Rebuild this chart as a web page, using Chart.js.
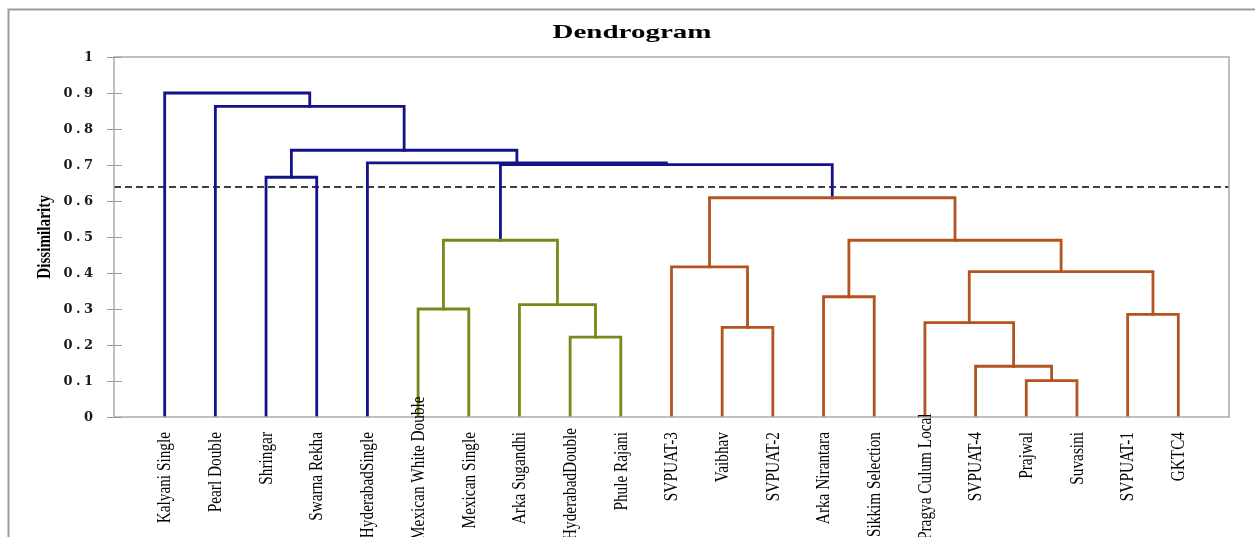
<!DOCTYPE html>
<html>
<head>
<meta charset="utf-8">
<script src="https://cdn.jsdelivr.net/npm/chart.js@4.4.1/dist/chart.umd.min.js"></script>
<style>
  html, body { margin: 0; padding: 0; background: #ffffff; }
  #wrap { position: relative; width: 1255px; height: 537px; overflow: hidden; }
  canvas { display: block; }
</style>
</head>
<body>
<div id="wrap"><canvas id="c" width="1255" height="537"></canvas></div>
<script>
// ---- data ----
const leaves = ["Kalyani Single", "Pearl Double", "Shringar", "Swarna Rekha", "HyderabadSingle",
  "Mexican White Double", "Mexican Single", "Arka Sugandhi", "HyderabadDouble", "Phule Rajani",
  "SVPUAT-3", "Vaibhav", "SVPUAT-2", "Arka Nirantara", "Sikkim Selection", "Pragya Culum Local",
  "SVPUAT-4", "Prajwal", "Suvasini", "SVPUAT-1", "GKTC4"];
// merges: node ids 0..20 are leaves, 21.. are merges in order
const mergeLeft   = [17, 16, 8, 11, 15, 19, 5, 7, 13, 25, 10, 27, 29, 31, 2, 32, 4, 35, 1, 0];
const mergeRight  = [18, 21, 9, 12, 22, 20, 6, 23, 14, 26, 24, 28, 30, 33, 3, 34, 36, 37, 38, 39];
const mergeHeight = [0.101, 0.141, 0.222, 0.249, 0.262, 0.285, 0.300, 0.312, 0.334, 0.404, 0.417,
  0.491, 0.491, 0.609, 0.666, 0.701, 0.706, 0.741, 0.863, 0.900];
const mergeGroup  = ["o", "o", "g", "o", "o", "o", "g", "g", "o", "o", "o", "g", "o", "o",
  "b", "b", "b", "b", "b", "b"];
const groupColors = { b: "#12128a", g: "#768a1a", o: "#b4531e" };
const yTicks = [0, 0.1, 0.2, 0.3, 0.4, 0.5, 0.6, 0.7, 0.8, 0.9, 1];
const yTickLabels = ["0", "0.1", "0.2", "0.3", "0.4", "0.5", "0.6", "0.7", "0.8", "0.9", "1"];
const cutHeight = 0.639;
const chartTitle = "Dendrogram";
const yTitle = "Dissimilarity";

// ---- build link datasets from the merge table ----
const nodeX = leaves.map((_, i) => i + 1);
const nodeH = leaves.map(() => 0);
const datasets = [];
for (let k = 0; k < mergeLeft.length; k++) {
  const a = mergeLeft[k], b = mergeRight[k], h = mergeHeight[k];
  datasets.push({
    data: [{x: nodeX[a], y: nodeH[a]}, {x: nodeX[a], y: h}, {x: nodeX[b], y: h}, {x: nodeX[b], y: nodeH[b]}],
    borderColor: groupColors[mergeGroup[k]],
    borderWidth: 2.8,
    showLine: true, pointRadius: 0, tension: 0, fill: false,
    borderCapStyle: "square", borderJoinStyle: "miter"
  });
  nodeX.push((nodeX[a] + nodeX[b]) / 2);
  nodeH.push(h);
}
datasets.push({
  data: [{x: 0, y: cutHeight}, {x: leaves.length + 1, y: cutHeight}],
  borderColor: "#000000", borderWidth: 1.4, borderDash: [7, 4],
  showLine: true, pointRadius: 0, fill: false
});

// ---- decorations plugin (frame, axis ticks, text) ----
const deco = {
  id: "deco",
  beforeDraw(chart) {
    const ctx = chart.ctx;
    ctx.save();
    ctx.fillStyle = "#ffffff";
    ctx.fillRect(0, 0, chart.width, chart.height);
    ctx.strokeStyle = "#9c9c9c";
    ctx.lineWidth = 2;
    ctx.beginPath();
    ctx.moveTo(8.5, chart.height + 5);
    ctx.lineTo(8.5, 9.5);
    ctx.lineTo(chart.width + 5, 9.5);
    ctx.stroke();
    ctx.restore();
  },
  afterDraw(chart) {
    const ctx = chart.ctx;
    const a = chart.chartArea;
    const xs = chart.scales.x, ys = chart.scales.y;
    ctx.save();
    // plot border
    ctx.strokeStyle = "#ababab";
    ctx.lineWidth = 1.5;
    ctx.strokeRect(a.left, a.top, a.right - a.left, a.bottom - a.top);
    // y ticks crossing the axis
    ctx.strokeStyle = "#9a9a9a";
    ctx.lineWidth = 1;
    yTicks.forEach(v => {
      const y = Math.round(ys.getPixelForValue(v)) + 0.5;
      ctx.beginPath();
      ctx.moveTo(a.left - 7, y);
      ctx.lineTo(a.left + 8, y);
      ctx.stroke();
    });
    // y tick labels
    ctx.fillStyle = "#1a1a1a";
    ctx.font = "bold 13px 'DejaVu Serif'";
    ctx.textAlign = "right";
    ctx.textBaseline = "middle";
    ctx.letterSpacing = "3.5px";
    yTicks.forEach((v, i) => {
      ctx.fillText(yTickLabels[i], a.left - 17.5, ys.getPixelForValue(v) + 1);
    });
    ctx.letterSpacing = "0px";
    // title
    ctx.save();
    ctx.font = "bold 19px 'Liberation Serif'";
    const tw = ctx.measureText(chartTitle).width;
    ctx.translate(632, 38);
    ctx.scale(159 / tw, 1);
    ctx.textAlign = "center";
    ctx.textBaseline = "alphabetic";
    ctx.fillStyle = "#000000";
    ctx.fillText(chartTitle, 0, 0);
    ctx.restore();
    // y axis title
    ctx.save();
    ctx.font = "bold 19px 'Liberation Serif'";
    ctx.translate(50, 237);
    ctx.rotate(-Math.PI / 2);
    ctx.scale(0.8, 1);
    ctx.textAlign = "center";
    ctx.textBaseline = "alphabetic";
    ctx.fillStyle = "#000000";
    ctx.fillText(yTitle, 0, 0);
    ctx.restore();
    // x labels (rotated)
    ctx.font = "18px 'Liberation Serif'";
    ctx.fillStyle = "#000000";
    leaves.forEach((name, i) => {
      const x = xs.getPixelForValue(i + 1);
      const w = ctx.measureText(name).width * 0.85;
      const top = Math.min(432, 540 - w);
      ctx.save();
      ctx.translate(x + 1, top);
      ctx.rotate(-Math.PI / 2);
      ctx.scale(0.85, 1);
      ctx.textAlign = "right";
      ctx.textBaseline = "middle";
      ctx.fillText(name, 0, 0);
      ctx.restore();
    });
    ctx.restore();
  }
};

new Chart(document.getElementById("c"), {
  type: "scatter",
  data: { datasets },
  options: {
    responsive: false,
    animation: false,
    events: [],
    layout: { padding: { left: 114, right: 26, top: 57, bottom: 120 } },
    plugins: { legend: { display: false }, tooltip: { enabled: false }, title: { display: false } },
    scales: {
      x: { type: "linear", min: 0, max: leaves.length + 1, display: false },
      y: { type: "linear", min: 0, max: 1, display: false }
    }
  },
  plugins: [deco]
});
</script>
</body>
</html>
